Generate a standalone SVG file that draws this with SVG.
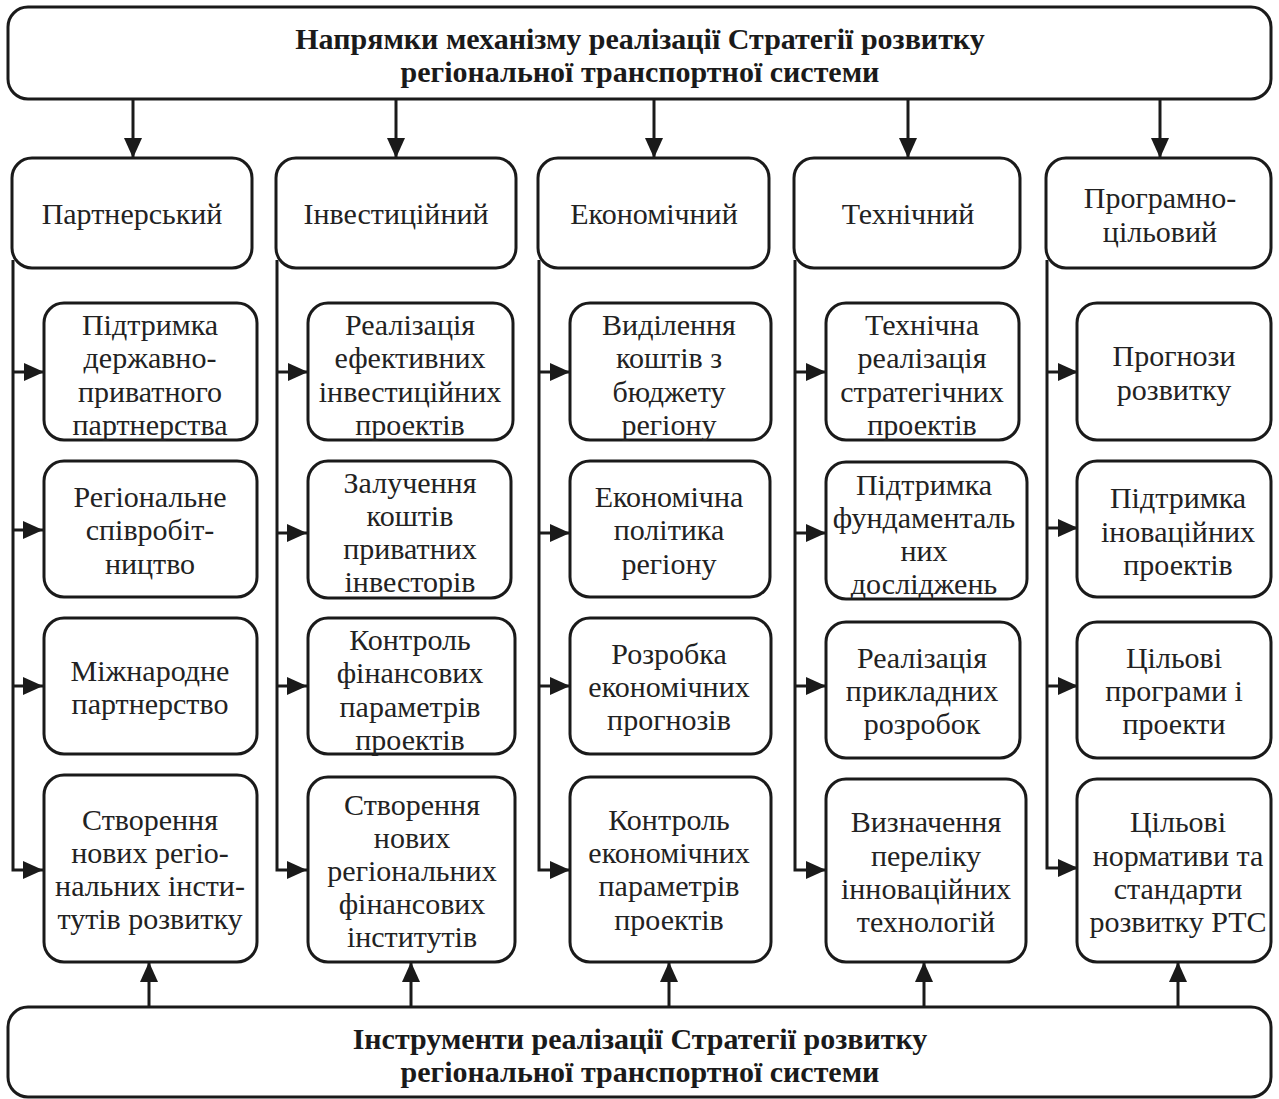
<svg xmlns="http://www.w3.org/2000/svg" width="1279" height="1099" viewBox="0 0 1279 1099">
<style>
.box{fill:#fff;stroke:#1a1a1a;stroke-width:3}
.t{font-family:"Liberation Serif","Times New Roman",serif;font-size:30px;fill:#222;text-anchor:middle}
.b{font-family:"Liberation Serif","Times New Roman",serif;font-size:30px;font-weight:bold;fill:#1a1a1a;text-anchor:middle}
.c{fill:none;stroke:#1a1a1a;stroke-width:3}
</style>
<defs>
<marker id="ah" markerUnits="userSpaceOnUse" markerWidth="22" markerHeight="18" refX="20" refY="9" orient="auto">
<path d="M0,0 L20,9 L0,18 Z" fill="#1a1a1a"/>
</marker>
</defs>
<rect width="1279" height="1099" fill="#fff"/>
<g id="top">
<rect class="box" x="8" y="7" width="1263" height="92" rx="20"/>
<text class="b" x="640" y="49">Напрямки механізму реалізації Стратегії розвитку</text>
<text class="b" x="640" y="82">регіональної транспортної системи</text>
</g>
<g id="bottom">
<rect class="box" x="8" y="1007" width="1263" height="90" rx="20"/>
<text class="b" x="640" y="1049">Інструменти реалізації Стратегії розвитку</text>
<text class="b" x="640" y="1082">регіональної транспортної системи</text>
</g>
<g id="connectors">
<path class="c" d="M133,100 V158" marker-end="url(#ah)"/>
<path class="c" d="M396,100 V158" marker-end="url(#ah)"/>
<path class="c" d="M654,100 V158" marker-end="url(#ah)"/>
<path class="c" d="M908,100 V158" marker-end="url(#ah)"/>
<path class="c" d="M1160,100 V158" marker-end="url(#ah)"/>
<path class="c" d="M13,260 V870 H43" marker-end="url(#ah)"/>
<path class="c" d="M13,372 H44" marker-end="url(#ah)"/>
<path class="c" d="M13,530 H43" marker-end="url(#ah)"/>
<path class="c" d="M13,686 H43" marker-end="url(#ah)"/>
<path class="c" d="M277,260 V870 H307" marker-end="url(#ah)"/>
<path class="c" d="M277,372 H308" marker-end="url(#ah)"/>
<path class="c" d="M277,533 H307" marker-end="url(#ah)"/>
<path class="c" d="M277,686 H307" marker-end="url(#ah)"/>
<path class="c" d="M539,260 V870 H570" marker-end="url(#ah)"/>
<path class="c" d="M539,372 H570" marker-end="url(#ah)"/>
<path class="c" d="M539,533 H570" marker-end="url(#ah)"/>
<path class="c" d="M539,686 H570" marker-end="url(#ah)"/>
<path class="c" d="M795,260 V870 H826" marker-end="url(#ah)"/>
<path class="c" d="M795,372 H826" marker-end="url(#ah)"/>
<path class="c" d="M795,533 H826" marker-end="url(#ah)"/>
<path class="c" d="M795,686 H826" marker-end="url(#ah)"/>
<path class="c" d="M1047,260 V868 H1078" marker-end="url(#ah)"/>
<path class="c" d="M1047,372 H1078" marker-end="url(#ah)"/>
<path class="c" d="M1047,528 H1078" marker-end="url(#ah)"/>
<path class="c" d="M1047,686 H1078" marker-end="url(#ah)"/>
<path class="c" d="M149,1007 V962" marker-end="url(#ah)"/>
<path class="c" d="M411,1007 V962" marker-end="url(#ah)"/>
<path class="c" d="M669,1007 V962" marker-end="url(#ah)"/>
<path class="c" d="M924,1007 V962" marker-end="url(#ah)"/>
<path class="c" d="M1178,1007 V962" marker-end="url(#ah)"/>
</g>
<g id="h1"><rect class="box" x="12" y="158" width="240" height="110" rx="20"/><text class="t" x="132" y="224">Партнерський</text></g>
<g id="h2"><rect class="box" x="276" y="158" width="240" height="110" rx="20"/><text class="t" x="396" y="224">Інвестиційний</text></g>
<g id="h3"><rect class="box" x="538" y="158" width="231" height="110" rx="20"/><text class="t" x="654" y="224">Економічний</text></g>
<g id="h4"><rect class="box" x="794" y="158" width="226" height="110" rx="20"/><text class="t" x="908" y="224">Технічний</text></g>
<g id="h5"><rect class="box" x="1046" y="158" width="225" height="110" rx="20"/><text class="t" x="1160" y="208">Програмно-</text><text class="t" x="1160" y="242">цільовий</text></g>

<g id="n11"><rect class="box" x="44" y="303" width="213" height="137" rx="20"/><text class="t" x="150" y="335">Підтримка</text><text class="t" x="150" y="368">державно-</text><text class="t" x="150" y="402">приватного</text><text class="t" x="150" y="435">партнерства</text></g>
<g id="n12"><rect class="box" x="44" y="461" width="213" height="136" rx="20"/><text class="t" x="150" y="507">Регіональне</text><text class="t" x="150" y="540">співробіт-</text><text class="t" x="150" y="574">ництво</text></g>
<g id="n13"><rect class="box" x="44" y="618" width="213" height="136" rx="20"/><text class="t" x="150" y="681">Міжнародне</text><text class="t" x="150" y="714">партнерство</text></g>
<g id="n14"><rect class="box" x="44" y="775" width="213" height="187" rx="20"/><text class="t" x="150" y="830">Створення</text><text class="t" x="150" y="863">нових регіо-</text><text class="t" x="150" y="896">нальних інсти-</text><text class="t" x="150" y="929">тутів розвитку</text></g>

<g id="n21"><rect class="box" x="308" y="303" width="205" height="137" rx="20"/><text class="t" x="410" y="335">Реалізація</text><text class="t" x="410" y="368">ефективних</text><text class="t" x="410" y="402">інвестиційних</text><text class="t" x="410" y="435">проектів</text></g>
<g id="n22"><rect class="box" x="308" y="461" width="203" height="137" rx="20"/><text class="t" x="410" y="493">Залучення</text><text class="t" x="410" y="526">коштів</text><text class="t" x="410" y="559">приватних</text><text class="t" x="410" y="592">інвесторів</text></g>
<g id="n23"><rect class="box" x="308" y="618" width="207" height="136" rx="20"/><text class="t" x="410" y="650">Контроль</text><text class="t" x="410" y="683">фінансових</text><text class="t" x="410" y="717">параметрів</text><text class="t" x="410" y="750">проектів</text></g>
<g id="n24"><rect class="box" x="308" y="777" width="207" height="185" rx="20"/><text class="t" x="412" y="815">Створення</text><text class="t" x="412" y="848">нових</text><text class="t" x="412" y="881">регіональних</text><text class="t" x="412" y="914">фінансових</text><text class="t" x="412" y="947">інститутів</text></g>

<g id="n31"><rect class="box" x="570" y="303" width="201" height="137" rx="20"/><text class="t" x="669" y="335">Виділення</text><text class="t" x="669" y="368">коштів з</text><text class="t" x="669" y="402">бюджету</text><text class="t" x="669" y="435">регіону</text></g>
<g id="n32"><rect class="box" x="570" y="461" width="200" height="136" rx="20"/><text class="t" x="669" y="507">Економічна</text><text class="t" x="669" y="540">політика</text><text class="t" x="669" y="574">регіону</text></g>
<g id="n33"><rect class="box" x="570" y="618" width="201" height="136" rx="20"/><text class="t" x="669" y="664">Розробка</text><text class="t" x="669" y="697">економічних</text><text class="t" x="669" y="730">прогнозів</text></g>
<g id="n34"><rect class="box" x="570" y="777" width="201" height="185" rx="20"/><text class="t" x="669" y="830">Контроль</text><text class="t" x="669" y="863">економічних</text><text class="t" x="669" y="896">параметрів</text><text class="t" x="669" y="930">проектів</text></g>

<g id="n41"><rect class="box" x="826" y="303" width="193" height="137" rx="20"/><text class="t" x="922" y="335">Технічна</text><text class="t" x="922" y="368">реалізація</text><text class="t" x="922" y="402">стратегічних</text><text class="t" x="922" y="435">проектів</text></g>
<g id="n42"><rect class="box" x="826" y="462" width="201" height="137" rx="20"/><text class="t" x="924" y="495">Підтримка</text><text class="t" x="924" y="528">фундаменталь</text><text class="t" x="924" y="561">них</text><text class="t" x="924" y="594">досліджень</text></g>
<g id="n43"><rect class="box" x="826" y="622" width="194" height="136" rx="20"/><text class="t" x="922" y="668">Реалізація</text><text class="t" x="922" y="701">прикладних</text><text class="t" x="922" y="734">розробок</text></g>
<g id="n44"><rect class="box" x="826" y="779" width="200" height="183" rx="20"/><text class="t" x="926" y="832">Визначення</text><text class="t" x="926" y="866">переліку</text><text class="t" x="926" y="899">інноваційних</text><text class="t" x="926" y="932">технологій</text></g>

<g id="n51"><rect class="box" x="1077" y="303" width="194" height="137" rx="20"/><text class="t" x="1174" y="366">Прогнози</text><text class="t" x="1174" y="400">розвитку</text></g>
<g id="n52"><rect class="box" x="1077" y="461" width="194" height="136" rx="20"/><text class="t" x="1178" y="508">Підтримка</text><text class="t" x="1178" y="542">іноваційних</text><text class="t" x="1178" y="575">проектів</text></g>
<g id="n53"><rect class="box" x="1077" y="622" width="194" height="136" rx="20"/><text class="t" x="1174" y="668">Цільові</text><text class="t" x="1174" y="701">програми і</text><text class="t" x="1174" y="734">проекти</text></g>
<g id="n54"><rect class="box" x="1077" y="779" width="194" height="183" rx="20"/><text class="t" x="1178" y="832">Цільові</text><text class="t" x="1178" y="866">нормативи та</text><text class="t" x="1178" y="899">стандарти</text><text class="t" x="1178" y="932">розвитку РТС</text></g>
</svg>
